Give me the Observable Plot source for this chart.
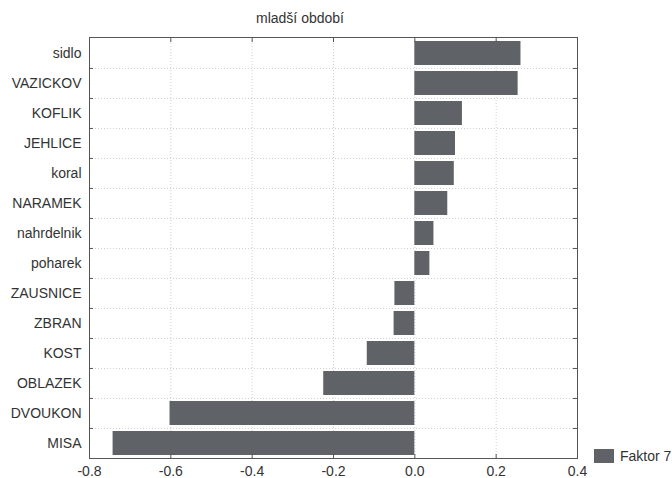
<!DOCTYPE html>
<html>
<head>
<meta charset="utf-8">
<script src="https://cdn.jsdelivr.net/npm/d3@7"></script>
<script src="https://cdn.jsdelivr.net/npm/@observablehq/plot@0.6"></script>
<style>
  html, body { margin: 0; padding: 0; background: #fff; }
  #chart { width: 672px; height: 478px; }
</style>
</head>
<body>
<div id="chart"></div>
<script>
const categories = ["sidlo","VAZICKOV","KOFLIK","JEHLICE","koral","NARAMEK","nahrdelnik","poharek","ZAUSNICE","ZBRAN","KOST","OBLAZEK","DVOUKON","MISA"];
const values = [0.261, 0.254, 0.117, 0.100, 0.097, 0.081, 0.047, 0.037, -0.049, -0.051, -0.117, -0.224, -0.602, -0.742];
const xTicks = [-0.8, -0.6, -0.4, -0.2, 0.0, 0.2, 0.4];
const seriesName = "Faktor 7";
const chartTitle = "mladší období";

const data = categories.map((c, i) => ({category: c, value: values[i]}));
const barColor = "#5f6267";
const frameColor = "#555";
const textColor = "#333";
const font = "'Liberation Sans', Arial, sans-serif";
const gridStyle = {stroke: "#cfcfcf", strokeDasharray: "1,2", strokeOpacity: 1};

const W = 672, H = 478;
const mL = 89, mR = 95, mT = 37, mB = 20;
const step = (H - mT - mB) / categories.length;

const chart = Plot.plot({
  width: W,
  height: H,
  marginLeft: mL,
  marginRight: mR,
  marginTop: mT,
  marginBottom: mB,
  style: {fontFamily: font, fontSize: "14px", color: textColor, background: "#fff"},
  x: {domain: [-0.8, 0.4], ticks: xTicks, label: null},
  y: {domain: categories, padding: 0, label: null},
  marks: [
    Plot.gridX(xTicks, gridStyle),
    Plot.ruleY(categories.slice(1), {y: d => d, dy: -step / 2, ...gridStyle}),
    Plot.barX(data, {x1: 0, x2: "value", y: "category", fill: barColor, insetTop: 3, insetBottom: 3}),
    // inward tick marks on the frame at row boundaries
    Plot.ruleY(categories.slice(1), {y: d => d, dy: -step / 2, x1: -0.8, x2: -0.79, stroke: frameColor}),
    Plot.ruleY(categories.slice(1), {y: d => d, dy: -step / 2, x1: 0.39, x2: 0.4, stroke: frameColor}),
    Plot.axisX({ticks: xTicks, anchor: "bottom", label: null, tickSize: -4, tickPadding: 12, tickFormat: d => d.toFixed(1), stroke: frameColor, fill: textColor, fontSize: 14}),
    Plot.axisX({ticks: xTicks, anchor: "top", label: null, tickSize: -4, tickFormat: () => "", stroke: frameColor}),
    Plot.axisY({anchor: "left", label: null, tickSize: 0, tickPadding: 8, fill: textColor, fontSize: 14}),
    Plot.frame({stroke: frameColor, strokeWidth: 1})
  ]
});

document.getElementById("chart").appendChild(chart);

// title and legend inside the svg
const svg = d3.select(chart);
svg.append("text")
  .attr("x", 300).attr("y", 23)
  .attr("text-anchor", "middle")
  .attr("fill", textColor)
  .style("font-family", font)
  .style("font-size", "14px")
  .text(chartTitle);
const lg = svg.append("g").attr("transform", "translate(594,449)");
lg.append("rect").attr("width", 20).attr("height", 14).attr("fill", barColor);
lg.append("text").attr("x", 26).attr("y", 12)
  .attr("text-anchor", "start")
  .attr("fill", textColor)
  .style("font-family", font)
  .style("font-size", "14px")
  .text(seriesName);
</script>
</body>
</html>
